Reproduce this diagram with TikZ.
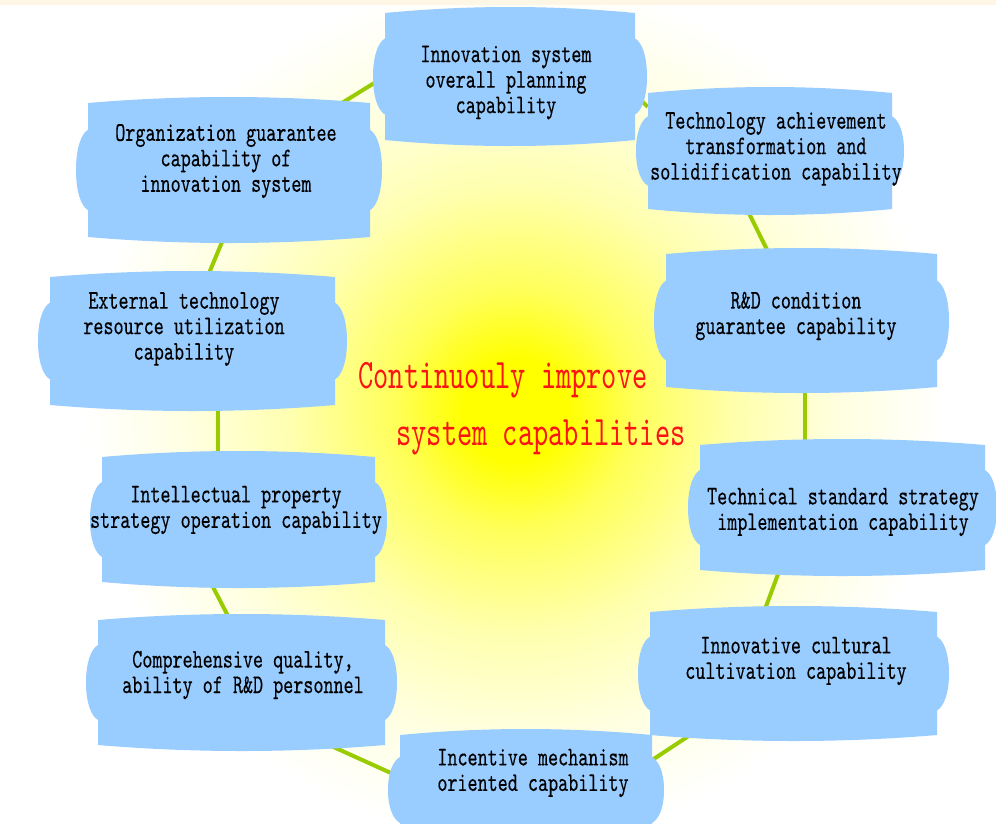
\documentclass[tikz,border=0pt]{standalone}
\usepackage{fontspec}
\usetikzlibrary{calc}
\newfontfamily\boxfont[FakeStretch=0.71,FakeBold=0.25]{lmmono10-regular.otf}
\newfontfamily\redfont[FakeStretch=0.69]{lmmono10-regular.otf}
\definecolor{boxblue}{RGB}{153,204,255}
\definecolor{wiregreen}{RGB}{153,204,0}
\definecolor{txtred}{RGB}{250,20,20}
\definecolor{cream}{RGB}{255,247,230}
\definecolor{glowA}{RGB}{255,255,0}
\definecolor{glowB}{RGB}{255,255,90}
\definecolor{glowC}{RGB}{255,255,175}
\definecolor{glowD}{RGB}{255,255,225}
\pgfdeclareradialshading{glow}{\pgfpoint{0bp}{0bp}}{color(0bp)=(glowA); color(3bp)=(glowA); color(7bp)=(glowB); color(13bp)=(glowC); color(19bp)=(glowD); color(25bp)=(white); color(50bp)=(white)}
\pgfdeclarelayer{glowlayer}
\pgfdeclarelayer{wirelayer}
\pgfsetlayers{glowlayer,wirelayer,main}
% wavy box: name, x1, y1, x2, y2 (pixel coordinates, y downwards)
\newcommand\wbox[5]{%
  \pgfmathsetmacro\bxA{#2+(#4-#2)/3}%
  \pgfmathsetmacro\bxB{#2+2*(#4-#2)/3}%
  \pgfmathsetmacro\byA{#3+0.2*(#5-#3)}%
  \pgfmathsetmacro\byB{#3+0.8*(#5-#3)}%
  \pgfmathsetmacro\byC{#3+0.34*(#5-#3)}%
  \pgfmathsetmacro\byD{#3+0.66*(#5-#3)}%
  \pgfmathsetmacro\bcx{(#2+#4)/2}%
  \pgfmathsetmacro\bcy{(#3+#5)/2}%
  \pgfmathsetmacro\bW{#4-#2}%
  \pgfmathsetmacro\bH{#5-#3}%
  \fill[boxblue] (#2,#3) .. controls (\bxA,#3-8) and (\bxB,#3-8) .. (#4,#3)
    -- (#4,\byA) .. controls (#4+7,\byA+4) and (#4+12,\byC) .. (#4+12,\bcy)
    .. controls (#4+12,\byD) and (#4+7,\byB-4) .. (#4,\byB)
    -- (#4,#5) .. controls (\bxB,#5+8) and (\bxA,#5+8) .. (#2,#5)
    -- (#2,\byB) .. controls (#2-7,\byB-4) and (#2-12,\byD) .. (#2-12,\bcy)
    .. controls (#2-12,\byC) and (#2-7,\byA+4) .. (#2,\byA) -- cycle;
  \node[inner sep=0pt, minimum width=\bW pt, minimum height=\bH pt] (#1) at (\bcx,\bcy) {};%
}
\begin{document}
\begin{tikzpicture}[x=1pt,y=-1pt,
  boxtext/.style={font=\boxfont\fontsize{27}{25.5}\selectfont, align=center, text=black, inner sep=0pt},
  redtext/.style={font=\redfont\fontsize{42}{42}\selectfont, text=txtred, inner sep=0pt},
  wire/.style={draw=wiregreen, line width=4pt}]
\useasboundingbox (0,0) rectangle (996,823);
\begin{pgfonlayer}{glowlayer}
  \fill[white] (0,0) rectangle (996,823);
  \shade[shading=glow] (515,410) circle (430);
  \fill[cream] (0,0) rectangle (996,5);
\end{pgfonlayer}

% boxes
\wbox{top}{385}{13}{635}{140}
\wbox{ach}{648}{93}{892}{209}
\wbox{rd}{666}{254}{937}{387}
\wbox{std}{700}{445}{985}{570}
\wbox{cult}{650}{612}{937}{735}
\wbox{inc}{400}{735}{652}{845}
\wbox{comp}{98}{620}{385}{745}
\wbox{ip}{102}{457}{375}{582}
\wbox{ext}{50}{277}{335}{405}
\wbox{org}{88}{103}{370}{237}

% texts
\node[boxtext] (top-t)  at (506,82.5) {Innovation system\\overall planning\\capability};
\node[boxtext] (ach-t)  at (776,149) {Technology achievement\\transformation and\\solidification capability};
\node[boxtext] (rd-t)   at (796,316) {R\&D condition\\guarantee capability};
\node[boxtext] (std-t)  at (843,512) {Technical standard strategy\\implementation capability};
\node[boxtext] (cult-t) at (796,661) {Innovative cultural\\cultivation capability};
\node[boxtext] (inc-t)  at (533,773) {Incentive mechanism\\oriented capability};
\node[boxtext] (comp-t) at (243,675) {Comprehensive quality,\\ability of R\&D personnel};
\node[boxtext] (ip-t)   at (236,510) {Intellectual property\\strategy operation capability};
\node[boxtext] (ext-t)  at (184,329) {External technology\\resource utilization\\capability};
\node[boxtext] (org-t)  at (226,161) {Organization guarantee\\capability of\\innovation system};

\node[redtext] (red1) at (503,380) {Continuouly improve};
\node[redtext] (red2) at (541,437) {system capabilities};

% connectors
\begin{pgfonlayer}{wirelayer}
  \draw[wire] (top.west) -- ($(org.north east)+(-28,0)$);
  \draw[wire] ($(org.south)+(-5,0)$) -- ($(ext.north)+(15,0)$);
  \draw[wire] ($(ext.south)+(25.5,0)$) -- ($(ip.north)+(-20.5,0)$);
  \draw[wire] ($(ip.south)+(-28,0)$) -- ($(comp.north)+(-11.5,0)$);
  \draw[wire] ($(comp.south)+(88,0)$) -- ($(inc.west)+(0,-13)$);
  \draw[wire] ($(inc.east)+(0,-30)$) -- ($(cult.south west)+(40,0)$);
  \draw[wire] ($(cult.north)+(-29.5,0)$) -- ($(std.south)+(-63,0)$);
  \draw[wire] ($(std.north)+(-37.5,0)$) -- ($(rd.south)+(3.5,0)$);
  \draw[wire] ($(rd.north)+(-32.5,0)$) -- ($(ach.south)+(-23,0)$);
  \draw[wire] ($(ach.north west)+(0,14)$) -- ($(top.east)+(0,18.5)$);
\end{pgfonlayer}
\end{tikzpicture}
\end{document}
